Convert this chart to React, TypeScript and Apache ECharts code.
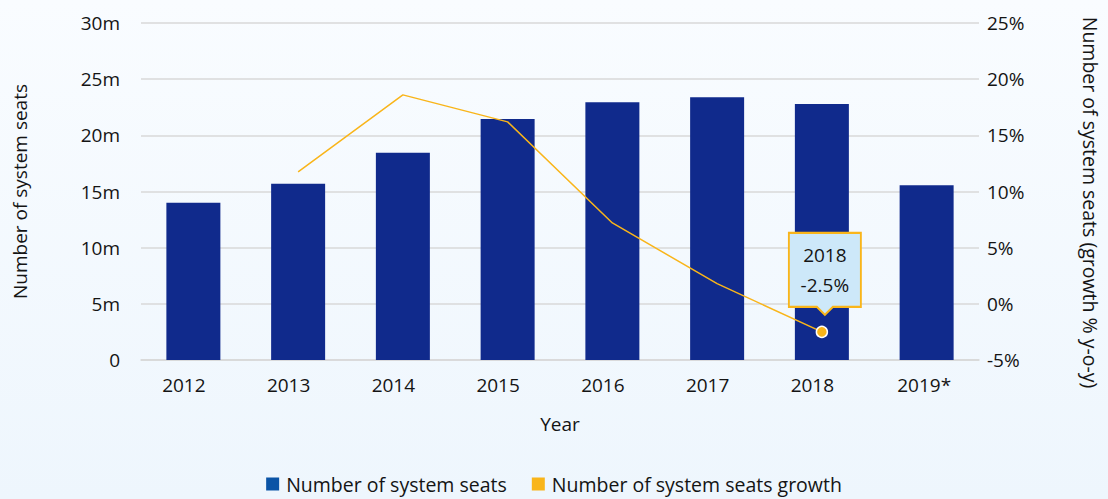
import React, { useEffect, useRef } from "react";
import * as echarts from "echarts";

const years = ["2012", "2013", "2014", "2015", "2016", "2017", "2018", "2019*"];
const seats = [14.0, 15.7, 18.45, 21.45, 22.95, 23.4, 22.8, 15.55];
const growth: (number | null)[] = [null, 11.75, 18.6, 16.2, 7.2, 1.8, -2.5, null];
const leftTicks = [0, 5, 10, 15, 20, 25, 30];
const rightTicks = [-5, 0, 5, 10, 15, 20, 25];
const highlightIndex = 6;

const FONT = "'Open Sans', sans-serif";
const TEXT = "#141414";
const BAR = "#102a8c";
const LINE = "#f9b51a";

export default function App() {
  const ref = useRef<HTMLDivElement>(null);
  useEffect(() => {
    if (!ref.current) return;
    const chart = echarts.init(ref.current, undefined, { renderer: "svg" });
    const lineData = growth.map((v, i) =>
      i === highlightIndex
        ? {
            value: v,
            symbol: "circle",
            symbolSize: 11,
            itemStyle: { color: LINE, borderColor: "#ffffff", borderWidth: 1.5 },
          }
        : v
    );
    const categoryData = years.map((y) => ({
      value: y,
      textStyle: { padding: y.endsWith("*") ? [0, 5, 0, 0] : [0, 19, 0, 0] },
    }));
    chart.setOption({
      animation: false,
      backgroundColor: new echarts.graphic.LinearGradient(0, 0, 0, 1, [
        { offset: 0, color: "#f9fcff" },
        { offset: 1, color: "#eef6fd" },
      ]),
      textStyle: { fontFamily: FONT },
      grid: { left: 141, right: 123, top: 23, bottom: 139 },
      legend: {
        bottom: 0,
        left: "center",
        itemWidth: 13,
        itemHeight: 13,
        itemGap: 25,
        icon: "rect",
        textStyle: { fontSize: 19.5, color: TEXT, fontFamily: FONT, padding: [0, 0, 0, 2] },
        data: [
          { name: "Number of system seats", itemStyle: { color: "#0b54a6" } },
          { name: "Number of system seats growth", itemStyle: { color: LINE } },
        ],
      },
      xAxis: {
        type: "category",
        data: categoryData,
        name: "Year",
        nameLocation: "middle",
        nameGap: 54,
        nameTextStyle: { fontSize: 19, color: TEXT },
        axisLine: { show: true, lineStyle: { color: "#d8d8d8", width: 1.5 } },
        axisTick: { show: false },
        axisLabel: { fontSize: 19, color: TEXT, margin: 15 },
      },
      yAxis: [
        {
          type: "value",
          min: leftTicks[0],
          max: leftTicks[leftTicks.length - 1],
          interval: 5,
          name: "Number of system seats",
          nameLocation: "middle",
          nameGap: 112,
          nameRotate: 90,
          nameTextStyle: { fontSize: 19, color: TEXT },
          axisLine: { show: false },
          axisTick: { show: false },
          axisLabel: {
            fontSize: 19,
            color: TEXT,
            margin: 21,
            formatter: (v: number) => (v === 0 ? "0" : v + "m"),
          },
          splitLine: { lineStyle: { color: "#d8d8d8", width: 1.5 } },
        },
        {
          type: "value",
          min: rightTicks[0],
          max: rightTicks[rightTicks.length - 1],
          interval: 5,
          name: "Number of system seats (growth % y-o-y)",
          nameLocation: "middle",
          nameGap: 101,
          nameRotate: -90,
          nameTextStyle: { fontSize: 19.5, color: TEXT, padding: [0, 0, 0, 22] },
          axisLine: { show: false },
          axisTick: { show: false },
          axisLabel: {
            fontSize: 19,
            color: TEXT,
            margin: 8,
            formatter: (v: number) => v + "%",
          },
          splitLine: { show: false },
        },
      ],
      series: [
        {
          name: "Number of system seats",
          type: "bar",
          data: seats,
          barWidth: 54,
          itemStyle: { color: BAR },
        },
        {
          name: "Number of system seats growth",
          type: "line",
          yAxisIndex: 1,
          data: lineData,
          symbol: "none",
          showSymbol: true,
          connectNulls: false,
          lineStyle: { color: LINE, width: 1.5 },
          itemStyle: { color: LINE },
          z: 5,
          markPoint: {
            z: 10,
            data: [
              {
                coord: [years[highlightIndex], growth[highlightIndex]],
                symbol: "path://M0 0 H72 V74 H44 L36 82 L28 74 H0 Z",
                symbolSize: [72, 82],
                symbolKeepAspect: false,
                symbolOffset: [3, -58],
                itemStyle: { color: "#cde8f9", borderColor: LINE, borderWidth: 2 },
                label: {
                  show: true,
                  position: "inside",
                  offset: [0, -4],
                  formatter: years[highlightIndex] + "\n" + growth[highlightIndex] + "%",
                  fontSize: 19,
                  lineHeight: 30,
                  color: TEXT,
                  fontFamily: FONT,
                },
              },
            ],
          },
        },
      ],
    });
    return () => chart.dispose();
  }, []);
  return (
    <div
      ref={ref}
      style={{ position: "absolute", left: 0, top: 0, width: 1108, height: 499 }}
    />
  );
}
